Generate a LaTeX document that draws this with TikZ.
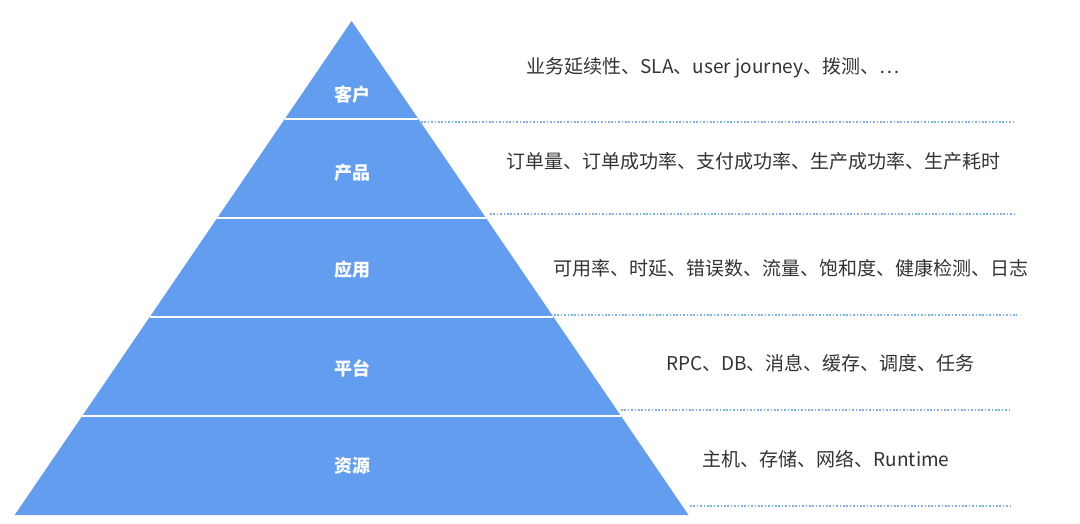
\documentclass[tikz,border=0pt]{standalone}
\usepackage{fontspec}
\setmainfont{Noto Sans CJK SC}
\definecolor{pyr}{RGB}{98,157,240}
\definecolor{dotc}{RGB}{125,175,242}
\definecolor{txt}{RGB}{51,51,51}
\begin{document}
\begin{tikzpicture}[x=1pt,y=-1pt,
  layerlabel/.style={text=white,font=\fontsize{18}{18}\selectfont\bfseries,inner sep=0pt},
  desc/.style={text=txt,font=\fontsize{19}{19}\selectfont,inner sep=0pt},
  sep/.style={white,line width=1.2pt},
  guide/.style={dotc,line width=1.1pt,dash pattern=on 1.6pt off 1.8pt}]
\useasboundingbox (0,0) rectangle (1080,524);
% pyramid
\coordinate (apex) at (351.6,21);
\coordinate (bl) at (14.7,515);
\coordinate (br) at (688.5,515);
\fill[pyr] (apex) -- (br) -- (bl) -- cycle;
% separators
\foreach \y in {119,218,317,416}{
  \draw[sep] ({351.6-0.682*(\y-21)},\y) -- ({351.6+0.682*(\y-21)},\y);
}
% layer labels
\node[layerlabel] (l1) at (352,95) {客户};
\node[layerlabel] (l2) at (352,173) {产品};
\node[layerlabel] (l3) at (352,270) {应用};
\node[layerlabel] (l4) at (352,368) {平台};
\node[layerlabel] (l5) at (352,466) {资源};
% dotted guide lines
\coordinate (g1a) at (421,122); \coordinate (g1b) at (1014,122);
\coordinate (g2a) at (490,214); \coordinate (g2b) at (1017,214);
\coordinate (g3a) at (554,315); \coordinate (g3b) at (1017,315);
\coordinate (g4a) at (621,410); \coordinate (g4b) at (1011,410);
\coordinate (g5a) at (690,506); \coordinate (g5b) at (1012,506);
\foreach \g in {1,...,5}{ \draw[guide] (g\g a) -- (g\g b); }
% descriptions
\node[desc] (d1) at (713,68) {业务延续性、SLA、user journey、拨测、…};
\node[desc] (d2) at (753,161) {订单量、订单成功率、支付成功率、生产成功率、生产耗时};
\node[desc] (d3) at (790.5,268) {可用率、时延、错误数、流量、饱和度、健康检测、日志};
\node[desc] (d4) at (820.5,363) {RPC、DB、消息、缓存、调度、任务};
\node[desc] (d5) at (826,459) {主机、存储、网络、Runtime};
\end{tikzpicture}
\end{document}
